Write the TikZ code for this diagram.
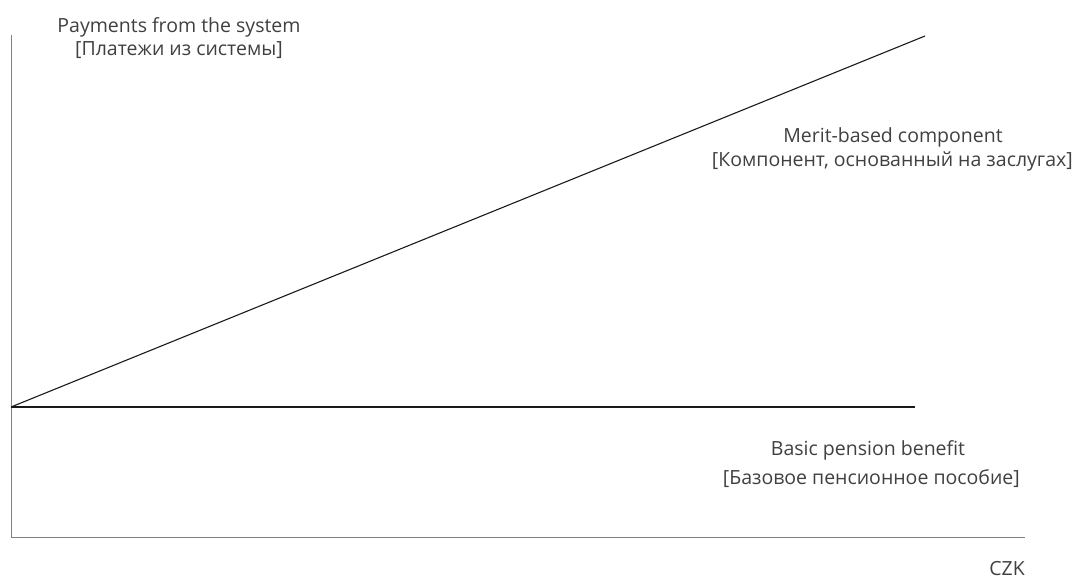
\documentclass[tikz,border=0pt]{standalone}
\usepackage{fontspec}
\setmainfont{Open Sans}
\definecolor{axisgrey}{HTML}{7F7F7F}
\definecolor{txt}{HTML}{404040}
\definecolor{ln}{HTML}{1A1A1A}
\begin{document}
\begin{tikzpicture}[x=1pt,y=-1pt,
  lbl/.style={inner sep=0pt,text=txt,font=\fontsize{19.5}{22}\selectfont},
  axis/.style={draw=axisgrey,line width=1pt},
  curve/.style={draw=ln,line width=1.1pt}]
\useasboundingbox (0,0) rectangle (1077,579);
\coordinate (top) at (11,35);
\coordinate (origin) at (11,537);
\coordinate (xend) at (1025,537);
\coordinate (base) at (11,407);
\coordinate (baseend) at (915,407);
\coordinate (meritend) at (925,36);
\draw[axis] (top) -- (origin) -- (xend);
\draw[curve] (base) -- (baseend);
\draw[curve] (base) -- (meritend);
\node[lbl] (y1) at (179,27) {Payments from the system};
\node[lbl] (y2) at (179,50) {[Платежи из системы]};
\node[lbl] (m1) at (893,137) {Merit-based component};
\node[lbl,anchor=east] (m2) at (1073,161) {[Компонент, основанный на заслугах]};
\node[lbl] (b1) at (868,450) {Basic pension benefit};
\node[lbl,anchor=east] (b2) at (1020,479) {[Базовое пенсионное пособие]};
\node[lbl,anchor=east] (czk) at (1025,569) {CZK};
\end{tikzpicture}
\end{document}
